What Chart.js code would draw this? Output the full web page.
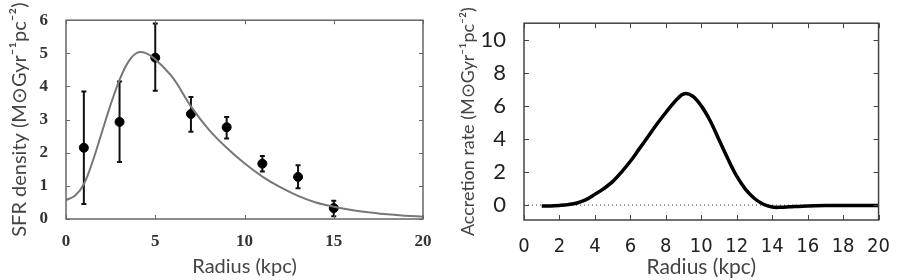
<!DOCTYPE html>
<html>
<head>
<meta charset="utf-8">
<script src="https://cdn.jsdelivr.net/npm/chart.js@4/dist/chart.umd.min.js"></script>
<style>
  body { margin: 0; background: #fff; }
  #wrap { position: relative; width: 897px; height: 280px; }
  #c1 { position: absolute; left: 0; top: 0; }
  #c2 { position: absolute; left: 450px; top: 0; }
</style>
</head>
<body>
<div id="wrap">
  <canvas id="c1" width="450" height="280"></canvas>
  <canvas id="c2" width="447" height="280"></canvas>
</div>
<script>
// left panel: SFR density, observed points with error bars + model curve
var obsRadius = [1, 3, 5, 7, 9, 11, 13, 15];
var obsSfr    = [2.15, 2.93, 4.87, 3.17, 2.77, 1.67, 1.27, 0.33];
var obsLow    = [0.45, 1.72, 3.87, 2.63, 2.43, 1.43, 0.93, 0.08];
var obsHigh   = [3.85, 4.15, 5.90, 3.68, 3.08, 1.90, 1.62, 0.55];

var modelRadius = [0, 0.5, 1, 1.5, 2, 2.5, 3, 3.5, 4, 4.5, 5, 6, 7, 8, 9, 10, 11, 12, 13, 14, 15, 16, 17, 18, 19, 20];
var modelSfr    = [0.57, 0.7, 1.05, 1.75, 2.6, 3.45, 4.2, 4.75, 5.02, 5.0, 4.82, 4.25, 3.4, 2.7, 2.15, 1.68, 1.28, 0.96, 0.7, 0.5, 0.37, 0.27, 0.2, 0.14, 0.1, 0.07];

var xTicksL = [0, 5, 10, 15, 20];
var yTicksL = [0, 1, 2, 3, 4, 5, 6];

// right panel: accretion rate
var accRadius = [1, 1.5, 2, 2.5, 3, 3.5, 4, 4.5, 5, 5.5, 6, 6.5, 7, 7.5, 8, 8.5, 9, 9.5, 10, 10.5, 11, 11.5, 12, 12.5, 13, 13.5, 14, 14.5, 15, 16, 17, 18, 19, 20];
var accRate   = [-0.05, -0.05, -0.02, 0.03, 0.13, 0.33, 0.65, 1.0, 1.42, 2.0, 2.65, 3.4, 4.15, 4.9, 5.6, 6.25, 6.72, 6.6, 6.0, 5.1, 3.95, 2.8, 1.75, 0.95, 0.4, 0.05, -0.12, -0.13, -0.1, -0.05, -0.03, -0.03, -0.03, -0.03];

var xTicksR = [0, 2, 4, 6, 8, 10, 12, 14, 16, 18, 20];
var yTicksR = [0, 2, 4, 6, 8, 10];

var unitText = ' (M\u2299Gyr\u207B\u00B9pc\u207B\u00B2)';

function toXY(xs, ys){
    var out = [];
    for(var i = 0; i < xs.length; i++){
        out.push({x: xs[i], y: ys[i]});
    }
    return out;
}

function fixTicks(list){
    return function(scale){
        scale.ticks = list.map(function(v){ return {value: v}; });
    };
}

// error bars drawn from the data arrays through the scales
var errorBars = {
    id: 'errorBars',
    beforeDatasetsDraw: function(chart){
        var ctx = chart.ctx, x = chart.scales.x, y = chart.scales.y;
        ctx.save();
        ctx.strokeStyle = '#111';
        ctx.lineWidth = 2;
        for(var i = 0; i < obsRadius.length; i++){
            var px = x.getPixelForValue(obsRadius[i]);
            var y1 = y.getPixelForValue(obsLow[i]);
            var y2 = y.getPixelForValue(obsHigh[i]);
            ctx.beginPath();
            ctx.moveTo(px, y1); ctx.lineTo(px, y2);
            ctx.moveTo(px - 2.5, y1); ctx.lineTo(px + 2.5, y1);
            ctx.moveTo(px - 2.5, y2); ctx.lineTo(px + 2.5, y2);
            ctx.stroke();
        }
        ctx.restore();
    }
};

// frame round the plot area with inward ticks on all four sides
var frame = {
    id: 'frame',
    afterDraw: function(chart, args, opts){
        var ctx = chart.ctx, a = chart.chartArea;
        var x = chart.scales.x, y = chart.scales.y;
        ctx.save();
        ctx.strokeStyle = opts.color;
        ctx.lineWidth = opts.width;
        ctx.strokeRect(a.left, a.top, a.right - a.left, a.bottom - a.top);
        ctx.lineWidth = 1;
        ctx.beginPath();
        x.ticks.forEach(function(t){
            var px = Math.round(x.getPixelForValue(t.value)) + 0.5;
            ctx.moveTo(px, a.bottom); ctx.lineTo(px, a.bottom - opts.len);
            ctx.moveTo(px, a.top); ctx.lineTo(px, a.top + opts.len);
        });
        y.ticks.forEach(function(t){
            var py = Math.round(y.getPixelForValue(t.value)) + 0.5;
            ctx.moveTo(a.left, py); ctx.lineTo(a.left + opts.len, py);
            ctx.moveTo(a.right, py); ctx.lineTo(a.right - opts.len, py);
        });
        ctx.stroke();
        ctx.restore();
    }
};

Chart.defaults.color = '#222';

new Chart(document.getElementById('c1'), {
    type: 'scatter',
    data: {
        datasets: [
            {
                data: toXY(modelRadius, modelSfr),
                showLine: true,
                borderColor: '#777',
                borderWidth: 2,
                pointRadius: 0,
                tension: 0.35
            },
            {
                data: toXY(obsRadius, obsSfr),
                backgroundColor: '#000',
                borderColor: '#000',
                pointRadius: 4.5
            }
        ]
    },
    options: {
        responsive: false,
        animation: false,
        devicePixelRatio: 1,
        layout: { padding: { top: 7, right: 27, bottom: 1, left: 0 } },
        plugins: {
            legend: { display: false },
            tooltip: { enabled: false },
            frame: { color: '#666', width: 1.5, len: 4 }
        },
        scales: {
            x: {
                type: 'linear', min: 0, max: 20,
                afterBuildTicks: fixTicks(xTicksL),
                afterFit: function(s){ s.height = 60; },
                grid: { display: false },
                border: { display: false },
                ticks: { padding: 4, font: { family: 'Liberation Serif', size: 17, weight: 'bold' }, color: '#333' },
                title: { display: true, text: 'Radius (kpc)', font: { family: 'Lato', size: 20 }, color: '#444', padding: 0 }
            },
            y: {
                type: 'linear', min: 0, max: 6,
                afterBuildTicks: fixTicks(yTicksL),
                afterFit: function(s){ s.width = 66; },
                grid: { display: false },
                border: { display: false },
                ticks: { padding: 10, font: { family: 'Liberation Serif', size: 17, weight: 'bold' }, color: '#333' },
                title: { display: true, text: 'SFR density' + unitText, font: { family: 'Lato', size: 20 }, color: '#444', padding: { top: 8, bottom: 0 } }
            }
        }
    },
    plugins: [errorBars, frame]
});

new Chart(document.getElementById('c2'), {
    type: 'scatter',
    data: {
        datasets: [
            {
                data: toXY(accRadius, accRate),
                showLine: true,
                borderColor: '#000',
                borderWidth: 3.5,
                pointRadius: 0,
                tension: 0.35
            },
            {
                data: toXY([0, 20], [0, 0]),
                showLine: true,
                borderColor: '#444',
                borderWidth: 1,
                borderDash: [1, 3],
                pointRadius: 0
            }
        ]
    },
    options: {
        responsive: false,
        animation: false,
        devicePixelRatio: 1,
        layout: { padding: { top: 7, right: 10, bottom: 0, left: 0 } },
        plugins: {
            legend: { display: false },
            tooltip: { enabled: false },
            frame: { color: '#444', width: 1.5, len: 5 }
        },
        scales: {
            x: {
                type: 'linear', min: 0, max: 20,
                afterBuildTicks: fixTicks(xTicksR),
                afterFit: function(s){ s.height = 60; },
                grid: { display: false },
                border: { display: false },
                ticks: { padding: 7, font: { family: "'Liberation Sans Narrow', 'DejaVu Sans Condensed', sans-serif", size: 20 }, color: '#222' },
                title: { display: true, text: 'Radius (kpc)', font: { family: 'Lato', size: 21 }, color: '#444', padding: 0 }
            },
            y: {
                type: 'linear', min: -0.9, max: 11,
                afterBuildTicks: fixTicks(yTicksR),
                afterFit: function(s){ s.width = 74; },
                grid: { display: false },
                border: { display: false },
                ticks: { padding: 10, font: { family: 'Lato', size: 22 }, color: '#222' },
                title: { display: true, text: 'Accretion rate' + unitText, font: { family: 'Lato', size: 18 }, color: '#444', padding: { top: 7, bottom: 0 } }
            }
        }
    },
    plugins: [frame]
});
</script>
</body>
</html>
